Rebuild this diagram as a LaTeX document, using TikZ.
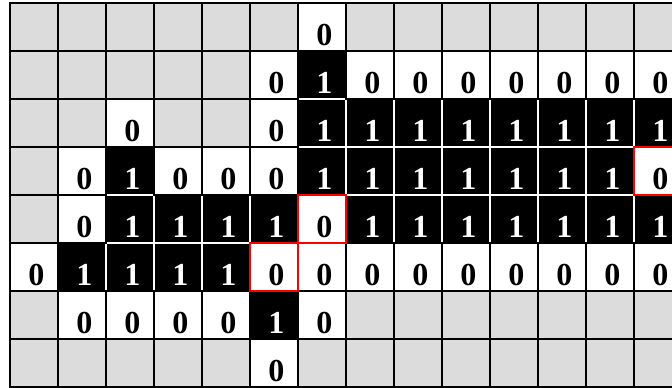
\documentclass[tikz,border=0pt]{standalone}
\usepackage{fontspec}
\setmainfont{Liberation Serif}
\definecolor{cellgray}{RGB}{220,220,220}
\newcommand{\cellfont}{\fontsize{19}{19}\selectfont\bfseries}
% digits sit a little right of centre
\newcommand{\cellnum}[1]{\hspace{2.8pt}#1}
\newcommand{\txtb}{\cellnum{1}}
\newcommand{\txtw}{\cellnum{0}}
\newcommand{\txtr}{\cellnum{0}}
\newcommand{\txtg}{}
% g = outside, w = 0, b = 1, r = marked 0
\newcommand{\cellrows}{%
  {g,g,g,g,g,g,w,g,g,g,g,g,g,g},%
  {g,g,g,g,g,w,b,w,w,w,w,w,w,w},%
  {g,g,w,g,g,w,b,b,b,b,b,b,b,b},%
  {g,w,b,w,w,w,b,b,b,b,b,b,b,r},%
  {g,w,b,b,b,b,r,b,b,b,b,b,b,b},%
  {w,b,b,b,b,r,w,w,w,w,w,w,w,w},%
  {g,w,w,w,w,b,w,g,g,g,g,g,g,g},%
  {g,g,g,g,g,w,g,g,g,g,g,g,g,g}}
\begin{document}
\begin{tikzpicture}[x=1cm,y=1cm,
    cell/.style={minimum size=1cm,inner sep=0pt,outer sep=0pt,line width=1.2pt,
      text height=0.79cm,text depth=0pt,font=\cellfont},
    cellg/.style={cell,draw=black,fill=cellgray},
    cellw/.style={cell,draw=black,fill=white},
    cellb/.style={cell,draw=white,line width=0.8pt,fill=black,text=white},
    cellr/.style={cell,draw=red,line width=1.5pt,fill=white}]
	\useasboundingbox (-0.2083,0.0625) rectangle (13.7917,-8.0208);
	% black cells first, the others on top, marked cells last
	\foreach \pass in {b,g,r}{
		\foreach \row [count=\r from 0] in \cellrows {
			\foreach \k [count=\c from 0] in \row {
				\if\k b\def\grp{b}\else\if\k r\def\grp{r}\else\def\grp{g}\fi\fi
				\if\grp\pass
					\node[cell\k] (c\r-\c) at (\c+0.5,-\r-0.5) {\csname txt\k\endcsname};
				\fi
			}
		}
	}
\end{tikzpicture}
\end{document}
